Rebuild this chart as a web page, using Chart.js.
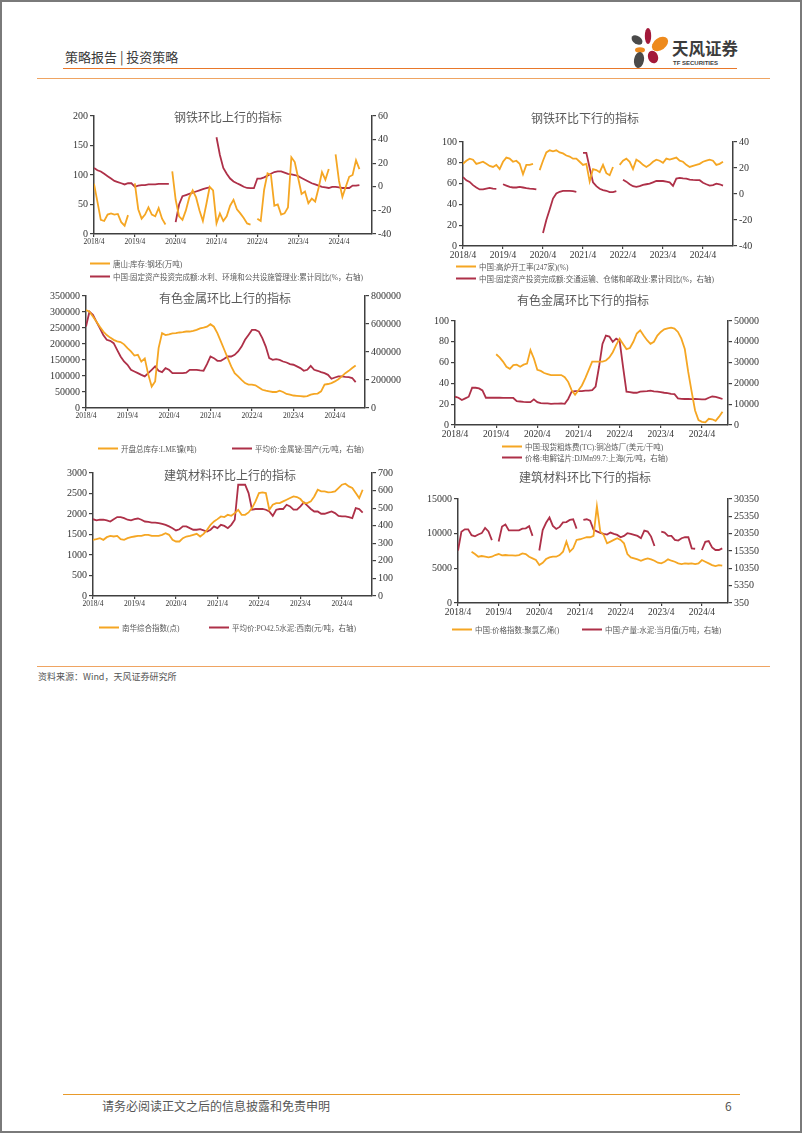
<!DOCTYPE html>
<html>
<head>
<meta charset="utf-8">
<script src="https://cdn.jsdelivr.net/npm/chart.js@4.4.1/dist/chart.umd.min.js"></script>
<style>
body{margin:0;background:#fff;}
#page{position:relative;width:802px;height:1133px;overflow:hidden;font-family:"Noto Sans CJK SC",sans-serif;background:#fff;}
.abs{position:absolute;}
.frame{left:0;top:0;width:802px;height:1133px;box-sizing:border-box;border:2px solid #7a7a7a;pointer-events:none;}
.hl{height:1.6px;}
.title{position:absolute;font-family:"Liberation Serif","Noto Sans CJK SC",serif;font-size:12px;color:#595959;transform:translate(-50%,-50%);white-space:nowrap;}
.lg{position:absolute;font-family:"Liberation Serif","Noto Sans CJK SC",serif;font-size:7.5px;color:#595959;white-space:nowrap;transform:translateY(-50%);display:flex;align-items:center;}
.lg i{display:inline-block;width:20px;height:2px;margin-right:3px;}
</style>
</head>
<body>
<div id="page">
  <!-- header -->
  <div class="abs" style="left:65px;top:48px;font-size:13px;color:#3a3a3a;line-height:18px;">策略报告 | 投资策略</div>
  <svg class="abs" style="left:628px;top:26px" width="44" height="46" viewBox="628 26 44 46">
    <ellipse cx="648" cy="36" rx="3.2" ry="8" fill="#a3193a"/>
    <ellipse cx="660" cy="44" rx="9" ry="6" transform="rotate(-35 660 44)" fill="#ee8a1d"/>
    <ellipse cx="637" cy="40" rx="6" ry="4" transform="rotate(35 637 40)" fill="#4a4a4a"/>
    <ellipse cx="640" cy="50" rx="5" ry="2.8" fill="#ee8a1d"/>
    <ellipse cx="639" cy="60" rx="5" ry="8" transform="rotate(10 639 60)" fill="#4a4a4a"/>
    <ellipse cx="653" cy="57" rx="5" ry="6.5" transform="rotate(-20 653 57)" fill="#a3193a"/>
  </svg>
  <div class="abs" style="left:672px;top:37px;font-size:16.5px;font-weight:bold;color:#3c3c3c;line-height:22px;">天风证券</div>
  <div class="abs" style="left:673px;top:59px;font-family:'Liberation Sans',sans-serif;font-size:6px;font-weight:bold;color:#3c3c3c;line-height:8px;">TF SECURITIES</div>
  <div class="abs hl" style="left:63px;top:67.5px;width:674px;background:#e8782a;"></div>
  <div class="abs hl" style="left:37px;top:77.5px;width:733px;background:#efa462;"></div>

  <!-- chart titles -->
  <div class="title" style="left:228px;top:117px">钢铁环比上行的指标</div>
  <div class="title" style="left:585px;top:118px">钢铁环比下行的指标</div>
  <div class="title" style="left:225px;top:298px">有色金属环比上行的指标</div>
  <div class="title" style="left:583px;top:300px">有色金属环比下行的指标</div>
  <div class="title" style="left:230px;top:475px">建筑材料环比上行的指标</div>
  <div class="title" style="left:585px;top:477px">建筑材料环比下行的指标</div>

  <!-- legends -->
  <div class="lg" style="left:90px;top:263px"><i style="background:#f5a623"></i>唐山:库存:钢坯(万吨)</div>
  <div class="lg" style="left:90px;top:276px"><i style="background:#ae3048"></i>中国:固定资产投资完成额:水利、环境和公共设施管理业:累计同比(%，右轴)</div>
  <div class="lg" style="left:456px;top:266px"><i style="background:#f5a623"></i>中国:高炉开工率(247家)(%)</div>
  <div class="lg" style="left:456px;top:278px"><i style="background:#ae3048"></i>中国:固定资产投资完成额:交通运输、仓储和邮政业:累计同比(%，右轴)</div>
  <div class="lg" style="left:98px;top:448px"><i style="background:#f5a623"></i>开盘总库存:LME镍(吨)</div>
  <div class="lg" style="left:232px;top:448px"><i style="background:#ae3048"></i>平均价:金属铋:国产(元/吨，右轴)</div>
  <div class="lg" style="left:502px;top:446px"><i style="background:#f5a623"></i>中国:现货粗炼费(TC):铜冶炼厂(美元/干吨)</div>
  <div class="lg" style="left:502px;top:457px"><i style="background:#ae3048"></i>价格:电解锰片:DJMn99.7:上海(元/吨，右轴)</div>
  <div class="lg" style="left:99px;top:627px"><i style="background:#f5a623"></i>南华综合指数(点)</div>
  <div class="lg" style="left:209px;top:627px"><i style="background:#ae3048"></i>平均价:PO42.5水泥:西南(元/吨，右轴)</div>
  <div class="lg" style="left:452px;top:629px"><i style="background:#f5a623"></i>中国:价格指数:聚氯乙烯()</div>
  <div class="lg" style="left:582px;top:629px"><i style="background:#ae3048"></i>中国:产量:水泥:当月值(万吨，右轴)</div>

  <!-- source + footer -->
  <div class="abs hl" style="left:37px;top:665.5px;width:733px;background:#efa462;"></div>
  <div class="abs" style="left:38px;top:671px;font-size:9px;color:#555;line-height:12px;">资料来源：Wind，天风证券研究所</div>
  <div class="abs hl" style="left:63px;top:1093.5px;width:677px;background:#e89a2a;"></div>
  <div class="abs" style="left:102px;top:1098px;font-size:12px;color:#555;line-height:16px;">请务必阅读正文之后的信息披露和免责申明</div>
  <div class="abs" style="left:725px;top:1098px;font-size:12px;color:#555;line-height:16px;">6</div>
  <div class="abs frame"></div>
</div>
<script>
// monthly data, index 0 = 2018/4 ... index 78 = 2024/10
const yearTicks = ['2018/4', '2019/4', '2020/4', '2021/4', '2022/4', '2023/4', '2024/4'];

// 钢铁环比上行
const tangshanBillet = [85,55,24,22,33,35,33,34,20,14,32,null,86,42,26,33,45,33,30,44,26,16,null,106,58,30,24,40,62,74,62,40,22,50,80,74,18,35,22,30,48,58,42,35,27,18,16,null,26,22,75,103,100,48,50,33,35,45,130,122,95,68,72,52,60,55,78,105,92,110,null,135,90,63,80,97,100,125,110];
const waterInvestYoy = [16,14,13,11,9,7,5,4,3,2,3,3,0,1,1.5,1.5,2,2,2,2.5,2.5,2.5,2.5,null,-30,-15,-8,-7,-6,-5,-4,-3,-2,-1.2,-0.5,null,42,27,16,11,7,4.5,3,1.6,0,-1,-1.2,-1.2,7,7,8,9.5,11,12.5,13,13,12,11,10.5,10,9,7.5,6,4.5,3,2,1,0,-0.5,-1,0,0,-0.4,-1,-1,-1,1,1,1.5];

// 钢铁环比下行
const blastFurnaceRate = [79,82,84,83,79,80,81,79,77,76,78,74,81,85,84,81,82,79,69,78,78,79,null,73,82,90,92,91,92,90,89,87,86,84,84,81,78,79,62,74,73,71,78,70,68,76,null,78,82,84,81,74,83,81,78,76,78,81,83,82,80,84,83,84,85,82,81,78,76,77,78,79,81,82,83,82,78,79,81];
const transportInvestYoy = [13,10.5,9.3,6.8,5,3.5,3.5,4.2,4.7,4.2,4,null,7.5,6.5,5.5,5,5,5.5,5,4.5,4.2,4,3.5,null,-30,-20,-12,-3.5,0.4,1.7,2.4,2.4,2.4,2.2,1.7,null,31.6,31.6,20,9,6,4,3,2.5,1.5,1.5,2.2,null,11,9.5,7.5,6,5.5,6,7,7.5,8,9,10,10,10,9.5,9,6.3,11.9,12.4,12,11.8,11.1,10.8,10.6,10.6,8.6,7.5,6.5,6.8,8,7.5,6.5];

// 有色金属环比上行
const lmeNickelStock = [306000,301000,286000,270000,254000,239000,228000,220000,213000,208000,206000,199000,187000,177000,164000,166000,145000,155000,105000,67000,83000,187000,234000,228000,230000,233000,234000,236000,237000,239000,239000,241000,244000,249000,251000,254000,262000,254000,234000,208000,182000,156000,130000,109000,99000,88000,78000,73000,73000,71000,64000,57000,54000,52000,50000,50000,54000,50000,44000,42000,39000,38000,37000,36000,37000,42000,44000,45000,52000,73000,75000,78000,83000,90000,99000,109000,116000,125000,133000];
const bismuthPrice = [582000,688000,665000,617000,570000,522000,487000,480000,463000,415000,368000,332000,309000,273000,261000,249000,237000,226000,249000,273000,297000,266000,256000,285000,273000,249000,249000,249000,249000,252000,273000,273000,273000,268000,266000,313000,368000,356000,337000,337000,351000,368000,368000,380000,404000,439000,487000,522000,558000,558000,546000,499000,439000,356000,344000,349000,344000,332000,325000,313000,309000,297000,285000,266000,273000,301000,273000,266000,256000,249000,237000,209000,218000,226000,226000,223000,221000,214000,185000];

// 有色金属环比下行
const copperTC = [null,null,null,null,null,null,null,null,null,null,null,null,68,65,61,56,54,57.5,58,56,58,59,72,64,53,52,50,49,48,48,48,48,46,41.5,33.5,29,33.5,38,45,53,61,61,61,61,62,65,70,77,83,78,73,74,80,88,91,86,81.5,78,80,86,89.5,92,93,93.6,92.7,89.5,83,73,51,32,14,4.8,3,2.5,6,5.5,4,8,12.8];
const manganesePrice = [13600,13100,12000,12800,13600,17900,17900,17600,16600,13100,13100,13100,13100,13100,13000,13000,13000,13000,11500,11300,11100,11000,11000,12300,11000,10500,10400,10400,10200,10300,10300,10400,10200,12500,16000,16300,16300,16300,16500,16500,16800,18500,28000,39000,43000,42500,40000,41500,40500,28000,16000,15800,15500,15500,16000,16200,16300,16500,16200,16000,15800,15500,15300,15000,14800,12800,12600,12500,12500,12400,12500,12400,12300,12300,13100,13700,13500,13000,12500];

// 建筑材料环比上行
const nanhuaIndex = [1370,1386,1410,1370,1435,1467,1451,1467,1386,1370,1410,1435,1451,1467,1467,1492,1492,1467,1467,1467,1492,1533,1492,1370,1329,1329,1410,1451,1467,1492,1516,1451,1516,1614,1736,1818,1875,1940,1924,1981,1956,2022,2103,1981,1981,2038,2144,2307,2511,2527,2511,2103,2226,2266,2266,2307,2348,2389,2429,2413,2364,2266,2266,2307,2429,2592,2551,2551,2527,2535,2551,2633,2715,2739,2674,2633,2511,2389,2592];
const cementPriceSW = [437,430,434,434,430,424,437,449,449,443,434,430,437,441,434,424,422,418,418,415,411,405,396,386,373,380,396,396,386,377,377,380,373,367,377,396,386,405,399,386,405,434,633,633,633,586,491,495,495,496,491,481,456,491,495,495,519,510,491,491,510,533,514,495,481,481,468,468,475,481,472,456,453,453,449,443,500,495,475];

// 建筑材料环比下行
const pvcIndex = [null,null,null,null,7400,7065,6678,6775,6678,6581,6678,6920,7065,6872,6920,6872,6872,6823,6920,7162,7065,6678,6436,6194,5468,5807,6339,6581,6678,6678,6920,7400,8855,7400,7888,9097,9194,9339,9484,9484,9678,13936,10307,9823,8613,8855,9097,9339,9097,8613,7065,6581,6436,6291,6097,6291,6436,6291,6097,5807,5710,5952,6291,6097,5952,5710,5613,5710,5662,5710,5613,5710,6194,5952,5710,5468,5323,5468,5400];
const cementOutput = [15500,20900,21600,21600,19900,19600,20100,20500,22000,21000,18500,null,18100,22400,23000,21300,21300,21300,21300,21800,21900,22500,19700,null,15500,21400,23500,25000,22600,21700,22300,23600,23700,24300,24500,21800,null,24300,24500,24100,21500,21000,20600,20300,20100,20670,20280,19990,19320,19700,20480,20280,19990,19700,19030,21250,20960,19510,16800,null,20960,20670,19700,19700,18540,18350,19030,19320,19320,16120,16000,null,15640,18000,18200,16400,15640,15640,16100];

const ORANGE = '#f5a623';
const RED = '#ae3048';
const AXIS = '#404040';
const TICK_FONT = '"Liberation Serif", "Times New Roman", serif';
const PAD_L = 60, PAD_R = 60, PAD_T = 12, PAD_B = 24;
const page = document.getElementById('page');

function yAxis(pos, ax) {
  return {
    type: 'linear', position: pos, min: ax.min, max: ax.max,
    ticks: { stepSize: ax.step, color: '#333', font: { family: TICK_FONT, size: 10 }, padding: 2, callback: v => String(v) },
    grid: { drawOnChartArea: false, drawTicks: true, tickLength: 4, color: AXIS, lineWidth: 1.2 },
    border: { color: AXIS, width: 1.5 },
    afterFit: s => { s.width = pos === 'left' ? PAD_L : PAD_R; }
  };
}

function makeChart(p) {
  const w = p.R - p.L + PAD_L + PAD_R, h = p.B - p.T + PAD_T + PAD_B;
  const cv = document.createElement('canvas');
  cv.width = w; cv.height = h;
  cv.style.cssText = 'position:absolute;left:' + (p.L - PAD_L) + 'px;top:' + (p.T - PAD_T) + 'px;width:' + w + 'px;height:' + h + 'px;';
  page.insertBefore(cv, page.firstChild);
  new Chart(cv, {
    type: 'line',
    data: {
      datasets: [
        { data: p.left.values.map((v, i) => ({ x: i, y: v })), borderColor: ORANGE, yAxisID: 'y' },
        { data: p.right.values.map((v, i) => ({ x: i, y: v })), borderColor: RED, yAxisID: 'y1' }
      ]
    },
    options: {
      responsive: false, animation: false, devicePixelRatio: 1,
      layout: { padding: { top: PAD_T, left: 0, right: 0, bottom: 0 } },
      elements: { point: { radius: 0 }, line: { borderWidth: 1.8, tension: 0 } },
      spanGaps: false,
      plugins: { legend: { display: false }, tooltip: { enabled: false }, title: { display: false } },
      scales: {
        x: {
          type: 'linear', min: 0, max: p.xMax,
          ticks: { stepSize: 12, includeBounds: false, autoSkip: false, maxRotation: 0, color: '#333',
                   font: { family: TICK_FONT, size: p.xFont }, padding: 1,
                   callback: v => (v % 12 === 0 ? yearTicks[v / 12] : null) },
          grid: { drawOnChartArea: false, drawTicks: true, tickLength: 3, color: AXIS, lineWidth: 1.2 },
          border: { color: AXIS, width: 1.5 },
          afterFit: s => { s.height = PAD_B; }
        },
        y: yAxis('left', p.left),
        y1: yAxis('right', p.right)
      }
    }
  });
}

makeChart({ L: 94, R: 372, T: 116, B: 234, xMax: 81.7, xFont: 7.5,
  left: { min: 0, max: 200, step: 50, values: tangshanBillet },
  right: { min: -40, max: 60, step: 20, values: waterInvestYoy } });
makeChart({ L: 463, R: 733, T: 142, B: 246, xMax: 81, xFont: 9.5,
  left: { min: 0, max: 100, step: 20, values: blastFurnaceRate },
  right: { min: -40, max: 40, step: 20, values: transportInvestYoy } });
makeChart({ L: 86, R: 365, T: 296, B: 408, xMax: 80.7, xFont: 7.5,
  left: { min: 0, max: 350000, step: 50000, values: lmeNickelStock },
  right: { min: 0, max: 800000, step: 200000, values: bismuthPrice } });
makeChart({ L: 455, R: 728, T: 321, B: 425, xMax: 79.6, xFont: 9.5,
  left: { min: 0, max: 100, step: 20, values: copperTC },
  right: { min: 0, max: 50000, step: 10000, values: manganesePrice } });
makeChart({ L: 93, R: 372, T: 473, B: 596, xMax: 80.7, xFont: 7.5,
  left: { min: 0, max: 3000, step: 500, values: nanhuaIndex },
  right: { min: 0, max: 700, step: 100, values: cementPriceSW } });
makeChart({ L: 458, R: 728, T: 499, B: 603, xMax: 79.7, xFont: 9.5,
  left: { min: 0, max: 15000, step: 5000, values: pvcIndex },
  right: { min: 350, max: 30350, step: 5000, values: cementOutput } });
</script>
</body>
</html>
